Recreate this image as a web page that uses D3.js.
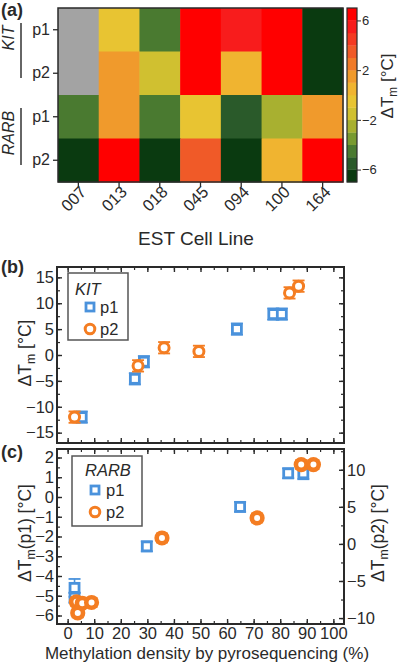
<!DOCTYPE html>
<html><head><meta charset="utf-8">
<script src="https://cdn.jsdelivr.net/npm/d3@7"></script>
<style>body{margin:0;background:#fff}</style>
</head><body><svg id="c" width="400" height="665"></svg>
<script>
// ---------- DATA ----------
const cellLines = ["007","013","018","045","094","100","164"];
const rowLabels = ["p1","p2","p1","p2"];
const geneLabels = ["KIT","RARB"];
const heatKITp1  = [null, -0.5, -4.5, 6.5, 5.5, 6.5, -6.5];
const heatKITp2  = [null, 1.5, -1.8, 6.5, 0.5, 6.5, -6.5];
const heatRARBp1 = [-4.5, 1.5, -4.5, -0.5, -5.5, -2.2, 1.5];
const heatRARBp2 = [-6.5, 6.5, -6.5, 3.5, -6.5, 0.5, 6.5];
const bandColors = ["#0a3a10","#2a5a2a","#4a7a30","#789a30","#a8b030","#d0c030","#e8c432",
                    "#f0b430","#f09a2c","#f07a28","#f05a28","#f43a22","#f81c1c","#ff0000"];
const colorbarTicks = [-6,-2,2,6];

const kitP1X = [5.3, 25.3, 28.7, 63.7, 77.4, 80.6];
const kitP1Y = [-12.0, -4.6, -1.3, 5.0, 7.9, 7.9];
const kitP2X = [2.6, 26.5, 36.3, 49.4, 83.5, 86.9];
const kitP2Y = [-12.0, -2.1, 1.4, 0.7, 12.0, 13.3];
const kitErr = 1.1;

const rarbP1X = [2.6, 2.6, 4.5, 29.8, 64.9, 83.0, 88.7];
const rarbP1Y = [-4.6, -5.1, -5.4, -2.5, -0.5, 1.2, 1.2];
const rarbP1E = [0.45, 0.25, 0.25, 0.25, 0.25, 0.25, 0.3];
const rarbP2X = [3.3, 3.8, 5.5, 9.0, 35.5, 71.3, 87.9, 92.5];
const rarbP2Y = [-7.8, -9.3, -8.0, -7.9, 0.8, 3.5, 10.7, 10.7];

const bTicks = [-15,-10,-5,0,5,10,15];
const cLeftTicks = [-6,-5,-4,-3,-2,-1,0,1,2];
const cRightTicks = [-10,-5,0,5,10];
const xTicks = [0,10,20,30,40,50,60,70,80,90,100];

// ---------- STYLE ----------
const FONT = "'Liberation Sans', Arial, sans-serif";
const INK = "#2a2a2a";
const BLUE = "#4a92dc", ORANGE = "#f47d22";
const svg = d3.select("#c").style("font-family", FONT);

// ---------- PANEL A: heatmap ----------
const heatRows = [heatKITp1, heatKITp2, heatRARBp1, heatRARBp2];
const hx = d3.scaleBand(cellLines, [58, 343]);
const hy = d3.scaleBand(d3.range(4), [8, 182]);
const color = d3.scaleQuantize([-7, 7], bandColors);
const gA = svg.append("g");
heatRows.forEach((row, r) => {
  gA.selectAll(null).data(row).join("rect")
    .attr("x", (d, i) => hx(cellLines[i])).attr("y", hy(r))
    .attr("width", hx.bandwidth() + 0.5).attr("height", hy.bandwidth() + 0.5)
    .attr("fill", d => d == null ? "#a3a3a3" : color(d));
});
gA.append("rect").attr("x", 58).attr("y", 8).attr("width", 285).attr("height", 174)
  .attr("fill", "none").attr("stroke", INK).attr("stroke-width", 1.5);
const ayA = gA.append("g").attr("transform", "translate(58,0)")
  .call(d3.axisLeft(hy).tickSize(5).tickPadding(3).tickFormat(i => rowLabels[i]));
ayA.select(".domain").remove();
ayA.selectAll("text").attr("font-size", 16).attr("fill", INK).attr("font-family", FONT);
ayA.selectAll("line").attr("stroke", INK).attr("stroke-width", 1.3);
const geneSpans = [[23, 78, 38], [108, 165, 133]];
geneLabels.forEach((g, i) => {
  const s = geneSpans[i];
  gA.append("line").attr("x1", 21).attr("x2", 21).attr("y1", s[0]).attr("y2", s[1])
    .attr("stroke", "#333").attr("stroke-width", 1.5);
  gA.append("text").attr("transform", `translate(14,${s[2]}) rotate(-90)`)
    .attr("text-anchor", "middle").attr("font-size", 16).attr("font-style", "italic")
    .attr("fill", INK).text(g);
});
const axA = gA.append("g").attr("transform", "translate(0,182)")
  .call(d3.axisBottom(hx).tickSize(5).tickFormat(""));
axA.select(".domain").remove();
axA.selectAll("line").attr("stroke", INK).attr("stroke-width", 1.3);
gA.selectAll(null).data(cellLines).join("text")
  .attr("transform", d => `translate(${hx(d) + hx.bandwidth() / 2 + 9},${193}) rotate(-45)`)
  .attr("text-anchor", "end").attr("font-size", 16.5).attr("fill", INK).text(d => d);
gA.append("text").attr("x", 196).attr("y", 245).attr("text-anchor", "middle")
  .attr("font-size", 19).attr("fill", INK).text("EST Cell Line");
const cy = d3.scaleLinear([-7, 7], [182, 8]);
const bandStep = 14 / bandColors.length;
gA.selectAll(null).data(bandColors).join("rect")
  .attr("x", 347).attr("width", 10)
  .attr("y", (d, i) => cy(-7 + (i + 1) * bandStep))
  .attr("height", (d, i) => cy(-7 + i * bandStep) - cy(-7 + (i + 1) * bandStep) + 0.3)
  .attr("fill", d => d);
gA.append("rect").attr("x", 347).attr("y", 8).attr("width", 10).attr("height", 174)
  .attr("fill", "none").attr("stroke", INK).attr("stroke-width", 1.2);
const acb = gA.append("g").attr("transform", "translate(357,0)")
  .call(d3.axisRight(cy).tickValues(colorbarTicks).tickSize(4).tickPadding(1).tickFormat(d3.format("d")));
acb.select(".domain").remove();
acb.selectAll("text").attr("font-size", 13).attr("fill", INK).attr("font-family", FONT);
acb.selectAll("line").attr("stroke", INK);
function dtLabel(sel, pre, post) {
  sel.append("tspan").text(pre);
  sel.append("tspan").attr("dy", 4).attr("font-size", "70%").text("m");
  sel.append("tspan").attr("dy", -4).text(post);
}
dtLabel(gA.append("text").attr("transform", "translate(393,86) rotate(-90)")
  .attr("text-anchor", "middle").attr("font-size", 17).attr("fill", INK), "ΔT", " [°C]");

svg.append("text").attr("x", 1).attr("y", 16).attr("font-size", 18).attr("font-weight", "bold")
  .attr("fill", INK).text("(a)");

// ---------- PANELS B & C ----------
const xS = d3.scaleLinear([-4, 104], [57, 344]);
const yB = d3.scaleLinear([-17, 17], [443, 267]);
const yC = d3.scaleLinear([-6.43, 2.43], [624, 449]);
const yC2 = d3.scaleLinear([-10.8, 12.8], [624, 449]);

function ticks(g, axisFn, scale, major, minor, labels) {
  const a = g.append("g").call(axisFn(scale).tickValues(major).tickSize(-5).tickPadding(3)
    .tickFormat(labels ? d3.format("d") : ""));
  a.select(".domain").remove();
  a.selectAll("line").attr("stroke", INK).attr("stroke-width", 1.4);
  a.selectAll("text").attr("font-size", 16.5).attr("fill", INK).attr("font-family", FONT);
  const m = g.append("g").call(axisFn(scale).tickValues(minor).tickSize(-3).tickFormat(""));
  m.select(".domain").remove();
  m.selectAll("line").attr("stroke", INK).attr("stroke-width", 1.2);
  return a;
}
const minorX = d3.range(0, 101, 5);

const gB = svg.append("g");
ticks(gB.append("g").attr("transform", "translate(57,0)"), d3.axisLeft, yB, bTicks, d3.range(-15, 16, 2.5), true);
ticks(gB.append("g").attr("transform", "translate(344,0)"), d3.axisRight, yB, bTicks, d3.range(-15, 16, 2.5), false);
ticks(gB.append("g").attr("transform", "translate(0,267)"), d3.axisTop, xS, xTicks, minorX, false);
ticks(gB.append("g").attr("transform", "translate(0,443)"), d3.axisBottom, xS, xTicks, minorX, false);

function errBars(g, xs, ys, es, yScale, col) {
  xs.forEach((x, i) => {
    const e = Array.isArray(es) ? es[i] : es;
    const cx = xS(x), y1 = yScale(ys[i] - e), y2 = yScale(ys[i] + e);
    g.append("line").attr("x1", cx).attr("x2", cx).attr("y1", y1).attr("y2", y2)
      .attr("stroke", col).attr("stroke-width", 1.6);
    [y1, y2].forEach(yy => g.append("line").attr("x1", cx - 6).attr("x2", cx + 6)
      .attr("y1", yy).attr("y2", yy).attr("stroke", col).attr("stroke-width", 1.8));
  });
}
function squares(g, xs, ys, yScale) {
  g.selectAll(null).data(xs).join("rect")
    .attr("x", d => xS(d) - 4.5).attr("y", (d, i) => yScale(ys[i]) - 4.5)
    .attr("width", 9).attr("height", 9).attr("fill", "#fff")
    .attr("stroke", BLUE).attr("stroke-width", 2.8);
}
function circles(g, xs, ys, yScale, r, sw) {
  g.selectAll(null).data(xs).join("circle")
    .attr("cx", d => xS(d)).attr("cy", (d, i) => yScale(ys[i])).attr("r", r)
    .attr("fill", "#fff").attr("stroke", ORANGE).attr("stroke-width", sw);
}
const mB = gB.append("g");
errBars(mB, kitP1X, kitP1Y, kitErr, yB, BLUE);
squares(mB, kitP1X, kitP1Y, yB);
errBars(mB, kitP2X, kitP2Y, kitErr, yB, ORANGE);
circles(mB, kitP2X, kitP2Y, yB, 5, 3);
gB.append("rect").attr("x", 57).attr("y", 267).attr("width", 287).attr("height", 176)
  .attr("fill", "none").attr("stroke", INK).attr("stroke-width", 2);
dtLabel(gB.append("text").attr("transform", "translate(31,353) rotate(-90)")
  .attr("text-anchor", "middle").attr("font-size", 17.5).attr("fill", INK), "ΔT", " [°C]");
svg.append("text").attr("x", 1).attr("y", 273).attr("font-size", 18).attr("font-weight", "bold")
  .attr("fill", INK).text("(b)");
const lB = gB.append("g");
lB.append("rect").attr("x", 68).attr("y", 273).attr("width", 60).attr("height", 67)
  .attr("fill", "#fff").attr("stroke", "#555").attr("stroke-width", 1.5);
lB.append("text").attr("x", 75).attr("y", 295).attr("font-size", 16.5).attr("font-style", "italic").attr("fill", INK).text(geneLabels[0]);
lB.append("rect").attr("x", 86).attr("y", 303).attr("width", 8).attr("height", 8).attr("fill", "#fff").attr("stroke", BLUE).attr("stroke-width", 2.8);
lB.append("text").attr("x", 100).attr("y", 313).attr("font-size", 16.5).attr("fill", INK).text("p1");
lB.append("circle").attr("cx", 90).attr("cy", 329).attr("r", 4.8).attr("fill", "#fff").attr("stroke", ORANGE).attr("stroke-width", 3);
lB.append("text").attr("x", 100).attr("y", 335).attr("font-size", 16.5).attr("fill", INK).text("p2");

const gC = svg.append("g");
ticks(gC.append("g").attr("transform", "translate(57,0)"), d3.axisLeft, yC, cLeftTicks, d3.range(-6, 2.01, 0.5), true);
ticks(gC.append("g").attr("transform", "translate(344,0)"), d3.axisRight, yC2, cRightTicks, d3.range(-10, 12.6, 2.5), true);
ticks(gC.append("g").attr("transform", "translate(0,449)"), d3.axisTop, xS, xTicks, minorX, false);
ticks(gC.append("g").attr("transform", "translate(0,624)"), d3.axisBottom, xS, xTicks, minorX, true);
const mC = gC.append("g");
errBars(mC, rarbP1X, rarbP1Y, rarbP1E, yC, BLUE);
squares(mC, rarbP1X, rarbP1Y, yC);
errBars(mC, rarbP2X, rarbP2Y, 0.6, yC2, ORANGE);
circles(mC, rarbP2X, rarbP2Y, yC2, 5.3, 4.6);
gC.append("rect").attr("x", 57).attr("y", 449).attr("width", 287).attr("height", 175)
  .attr("fill", "none").attr("stroke", INK).attr("stroke-width", 2);
dtLabel(gC.append("text").attr("transform", "translate(31,533) rotate(-90)")
  .attr("text-anchor", "middle").attr("font-size", 17.5).attr("fill", INK), "ΔT", "(p1) [°C]");
dtLabel(gC.append("text").attr("transform", "translate(384,533) rotate(-90)")
  .attr("text-anchor", "middle").attr("font-size", 17.5).attr("fill", INK), "ΔT", "(p2) [°C]");
svg.append("text").attr("x", 1).attr("y", 458).attr("font-size", 18).attr("font-weight", "bold")
  .attr("fill", INK).text("(c)");
gC.append("text").attr("x", 207).attr("y", 659).attr("text-anchor", "middle")
  .attr("font-size", 17).attr("fill", INK).text("Methylation density by pyrosequencing (%)");
const lC = gC.append("g");
lC.append("rect").attr("x", 72).attr("y", 456).attr("width", 70).attr("height", 70)
  .attr("fill", "#fff").attr("stroke", "#555").attr("stroke-width", 1.5);
lC.append("text").attr("x", 85).attr("y", 476).attr("font-size", 16.5).attr("font-style", "italic").attr("fill", INK).text(geneLabels[1]);
lC.append("rect").attr("x", 91).attr("y", 486).attr("width", 8).attr("height", 8).attr("fill", "#fff").attr("stroke", BLUE).attr("stroke-width", 2.8);
lC.append("text").attr("x", 106).attr("y", 496).attr("font-size", 16.5).attr("fill", INK).text("p1");
lC.append("circle").attr("cx", 95).attr("cy", 512).attr("r", 4.8).attr("fill", "#fff").attr("stroke", ORANGE).attr("stroke-width", 3);
lC.append("text").attr("x", 106).attr("y", 518).attr("font-size", 16.5).attr("fill", INK).text("p2");
</script></body></html>
